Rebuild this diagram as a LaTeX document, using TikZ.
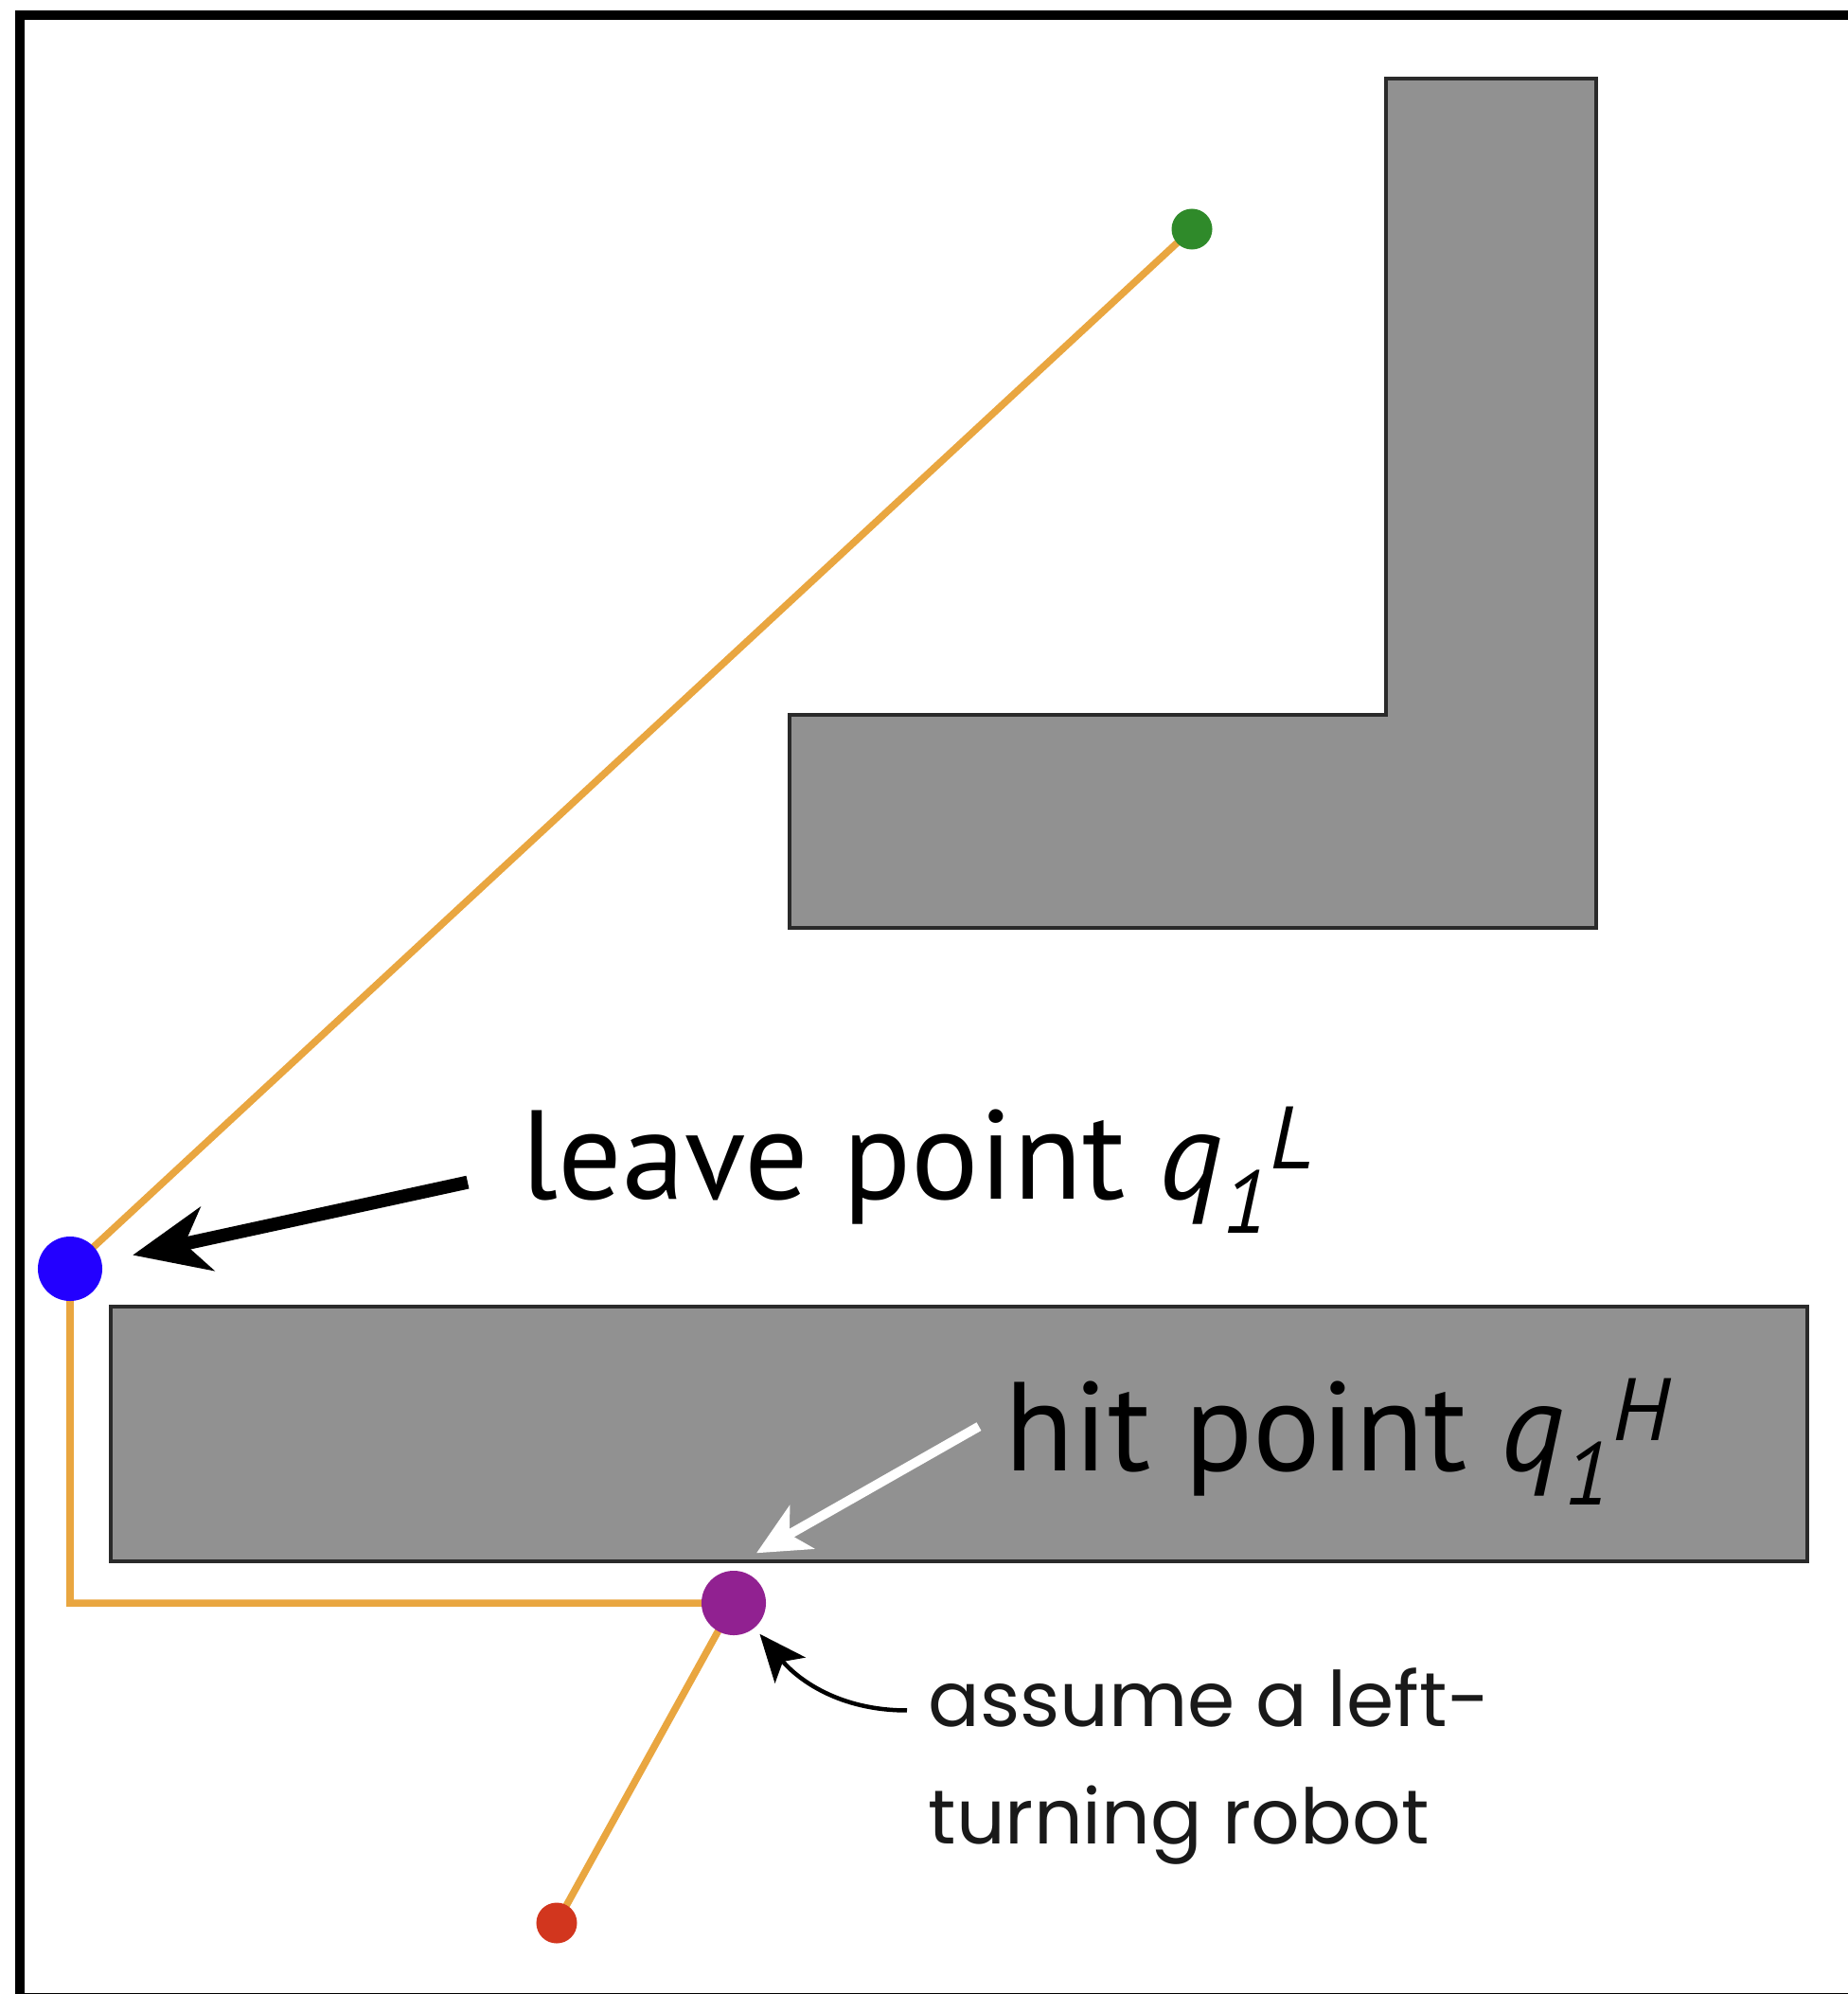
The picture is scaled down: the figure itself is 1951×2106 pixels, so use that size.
\documentclass[tikz,border=0pt]{standalone}
\usepackage{fontspec}
\setmainfont{PT Sans}
\newfontfamily\notefont{Poppins}
\usepackage{tikz}
\usetikzlibrary{arrows.meta, positioning, backgrounds}
\definecolor{obst}{HTML}{919191}
\definecolor{obstline}{HTML}{2A2A2A}
\definecolor{trail}{HTML}{E9A640}
\definecolor{goalc}{HTML}{2F8A2A}
\definecolor{leavec}{HTML}{2300FF}
\definecolor{hitc}{HTML}{912191}
\definecolor{startc}{HTML}{D2361E}

\begin{document}
\begin{tikzpicture}[
  x=0.01cm, y=-0.01cm,
  obstacle/.style={fill=obst, draw=obstline, line width=0.045cm},
  spot/.style={circle, inner sep=0pt, minimum size=#1},
  trailline/.style={draw=trail, line width=0.075cm},
  biglabel/.style={font=\fontsize{38}{44}\selectfont, inner sep=0pt},
  notetext/.style={font=\notefont\fontsize{23}{27}\selectfont,
    text=black!90, inner sep=0pt},
  leavearrow/.style={line width=0.14cm, shorten >=0.33cm,
    -{Stealth[length=0.8cm, width=0.68cm, inset=0.24cm]}},
  hitarrow/.style={draw=white, line width=0.1cm,
    -{Stealth[length=0.55cm, width=0.52cm, inset=0.15cm]}},
  notearrow/.style={line width=0.045cm, shorten >=0.08cm,
    -{Stealth[length=0.5cm, width=0.42cm, inset=0.12cm]}}
]
  \useasboundingbox (0,0) rectangle (1951,2106);

  % frame
  \draw[line width=0.1cm] (21,16) rectangle (1975,2110);

  % obstacles
  \draw[obstacle] (834,755) -- (1464,755) -- (1464,83) -- (1686,83)
    -- (1686,980) -- (834,980) -- cycle;
  \draw[obstacle] (117,1380) rectangle (1909,1649);

  % points on the path
  \node[spot=0.43cm, fill=goalc] (goal) at (1259,242) {};
  \node[spot=0.68cm, fill=leavec] (leave) at (74,1340) {};
  \node[spot=0.68cm, fill=hitc] (hit) at (775,1693) {};
  \node[spot=0.43cm, fill=startc] (start) at (588,2031) {};

  % robot path
  \begin{scope}[on background layer]
    \draw[trailline] (start.center) -- (hit.center) -| (leave.center)
      -- (goal.center);
  \end{scope}

  % labels
  \node[biglabel, anchor=base west] (leavelbl) at (550,1266)
    {leave point \textit{q}\textsubscript{\textit{1}}\textsuperscript{\textit{L}}};
  \node[biglabel, anchor=base west] (hitlbl) at (1061,1553)
    {hit point \textit{q}\textsubscript{\textit{1}}\textsuperscript{\textit{H}}};
  \node[notetext, anchor=base west] (note1) at (980,1823) {assume a left-};
  \node[notetext, anchor=base west] (note2) at (980,1947) {turning robot};

  % arrows
  \draw[leavearrow] ([xshift=-0.56cm, yshift=-0.13cm]leavelbl.west) -- (leave);
  \draw[hitarrow] ([xshift=-0.27cm, yshift=0.16cm]hitlbl.west)
    -- ([xshift=0.24cm, yshift=0.18cm]hit.north);
  \draw[notearrow] ([xshift=-0.22cm, yshift=-0.14cm]note1.west)
    to[out=180, in=-50] (hit);
\end{tikzpicture}
\end{document}
